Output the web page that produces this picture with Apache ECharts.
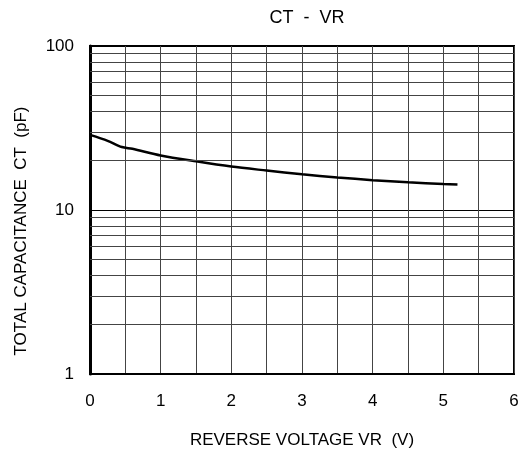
<!DOCTYPE html>
<html>
<head>
<meta charset="utf-8">
<script src="https://cdn.jsdelivr.net/npm/echarts@6/dist/echarts.min.js"></script>
<style>
html,body{margin:0;padding:0;background:#fff;}
#main{width:524px;height:457px;}
</style>
</head>
<body>
<div id="main"></div>
<script>
// 反向电压 VR (V)
var vr=[0,0.25,0.45,0.6,1,1.5,2,2.5,3,3.5,4,4.5,5,5.2];
// 总电容 CT (pF)
var ct=[28.7,26.4,24.2,23.6,21.5,19.8,18.4,17.4,16.5,15.8,15.2,14.75,14.4,14.3];
// 对数坐标的次网格线
var minorLines=[2,3,4,5,6,7,8,9,20,30,40,50,60,70,80,90];

var points=[];
for(var i=0;i<vr.length;i++){
	points.push([vr[i],ct[i]]);
}
var marks=[];
for(var j=0;j<minorLines.length;j++){
	marks.push({yAxis:minorLines[j]});
}

var myChart=echarts.init(document.getElementById('main'));
var font='"Liberation Sans", Arial, sans-serif';
var option={
	animation:false,
	title:{
		text:'CT  -  VR',
		left:302,
		top:4,
		textAlign:'center',
		textStyle:{fontFamily:font,fontSize:18,fontWeight:'normal',color:'#000'}
	},
	grid:{
		left:90,right:10,top:46,bottom:83,
		show:true,borderColor:'#000',borderWidth:2
	},
	xAxis:{
		type:'value',
		min:0,max:6,interval:1,
		name:'REVERSE VOLTAGE VR  (V)',
		nameLocation:'middle',
		nameGap:58,
		nameTextStyle:{fontFamily:font,fontSize:17,color:'#000'},
		axisLine:{show:true,lineStyle:{color:'#000',width:2}},
		axisTick:{show:false},
		axisLabel:{fontFamily:font,fontSize:17,color:'#000',margin:19},
		splitLine:{show:true,lineStyle:{color:'#444',width:1}},
		minorTick:{show:false,splitNumber:2},
		minorSplitLine:{show:true,lineStyle:{color:'#444',width:1}}
	},
	yAxis:{
		type:'log',
		logBase:10,
		min:1,max:100,
		name:'TOTAL CAPACITANCE  CT  (pF)',
		nameLocation:'middle',
		nameGap:60,
		nameTextStyle:{fontFamily:font,fontSize:17,color:'#000',padding:[0,42,0,0]},
		axisLine:{show:true,lineStyle:{color:'#000',width:3}},
		axisTick:{show:false},
		axisLabel:{fontFamily:font,fontSize:17,color:'#000',margin:16},
		splitLine:{show:true,lineStyle:{color:'#000',width:1}}
	},
	series:[{
		type:'line',
		data:points,
		smooth:0.3,
		showSymbol:false,
		lineStyle:{color:'#000',width:2.5},
		markLine:{
			silent:true,
			symbol:['none','none'],
			label:{show:false},
			lineStyle:{color:'#444',width:1,type:'solid'},
			data:marks
		}
	}]
};
myChart.setOption(option);
</script>
</body>
</html>
